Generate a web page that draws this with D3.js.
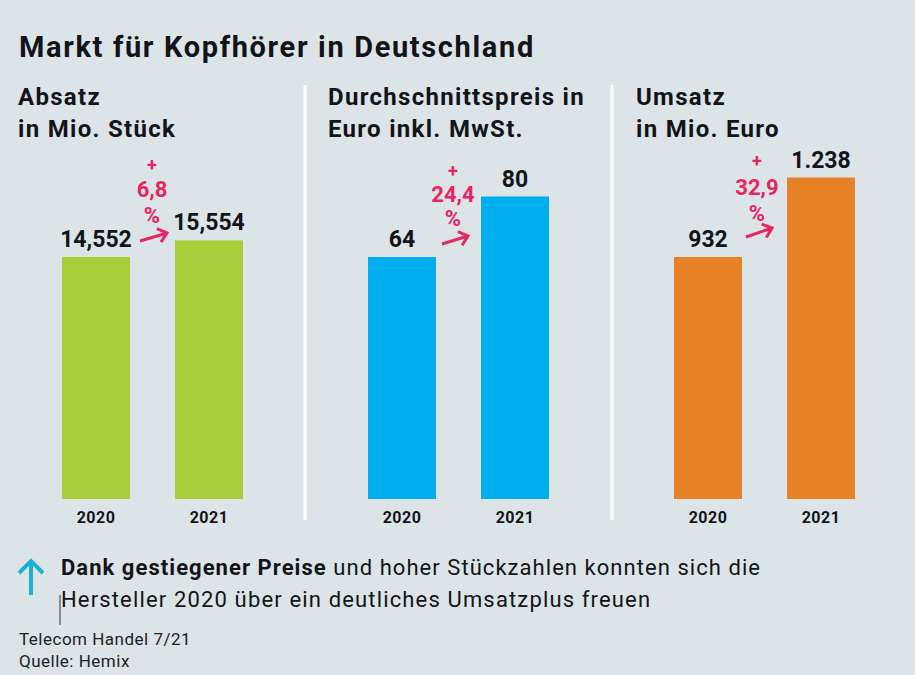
<!DOCTYPE html>
<html>
<head>
<meta charset="utf-8">
<script src="https://cdn.jsdelivr.net/npm/d3@7"></script>
<style>
  html, body { margin: 0; padding: 0; background: #dde4e8; }
  text { font-family: Roboto, sans-serif; }
</style>
</head>
<body>
<svg id="chart" width="915" height="675"></svg>
<script>
const years = ["2020", "2021"];
const absatzValues = [14.552, 15.554];
const preisValues = [64, 80];
const umsatzValues = [932, 1238];
const absatzLabels = ["14,552", "15,554"];
const preisLabels = ["64", "80"];
const umsatzLabels = ["932", "1.238"];
const absatzChange = ["+", "6,8", "%"];
const preisChange = ["+", "24,4", "%"];
const umsatzChange = ["+", "32,9", "%"];

const darkColor = "#111418";
const pinkColor = "#e5265f";
const baseline = 499;
const firstBarTop = 257;

const panels = [
  { title: ["Absatz", "in Mio. Stück"], titleX: 18, left: 62, color: "#a8cf3a",
    values: absatzValues, labels: absatzLabels, change: absatzChange,
    changeX: 152, changeY: [171, 197, 223], arrow: [140, 241, 167, 233] },
  { title: ["Durchschnittspreis in", "Euro inkl. MwSt."], titleX: 328, left: 368, color: "#00aeef",
    values: preisValues, labels: preisLabels, change: preisChange,
    changeX: 453, changeY: [177, 202, 226], arrow: [442, 244, 468, 236] },
  { title: ["Umsatz", "in Mio. Euro"], titleX: 636, left: 674, color: "#e68127",
    values: umsatzValues, labels: umsatzLabels, change: umsatzChange,
    changeX: 757, changeY: [167, 195, 221], arrow: [746, 237, 772, 228] },
];

const svg = d3.select("#chart");

svg.append("text")
  .attr("x", 19).attr("y", 57)
  .attr("font-size", 29).attr("font-weight", 700)
  .attr("letter-spacing", 1.65)
  .attr("fill", darkColor)
  .text("Markt für Kopfhörer in Deutschland");

// white rules between the panels
svg.selectAll(".rule")
  .data([305, 612])
  .enter()
  .append("line")
  .attr("x1", (d) => d).attr("x2", (d) => d)
  .attr("y1", 85).attr("y2", 520)
  .attr("stroke", "#fff").attr("stroke-width", 3);

function drawPanel(p) {
  const g = svg.append("g");

  const x = d3.scaleBand().domain(years)
    .range([p.left, p.left + 181])
    .paddingInner(45 / 113);
  // every panel has its own scale, the 2020 bar is the same height in all three
  const y = d3.scaleLinear().domain([0, p.values[0]]).range([baseline, firstBarTop]);

  g.selectAll(".title")
    .data(p.title)
    .enter()
    .append("text")
    .attr("x", p.titleX)
    .attr("y", (d, i) => 105 + i * 32)
    .attr("font-size", 24).attr("font-weight", 700)
    .attr("letter-spacing", 1.3)
    .attr("fill", darkColor)
    .text((d) => d);

  g.selectAll(".bar")
    .data(years)
    .enter()
    .append("rect")
    .attr("x", (d) => x(d))
    .attr("y", (d, i) => y(p.values[i]))
    .attr("width", x.bandwidth())
    .attr("height", (d, i) => baseline - y(p.values[i]))
    .attr("fill", p.color);

  g.selectAll(".value")
    .data(years)
    .enter()
    .append("text")
    .attr("x", (d) => x(d) + x.bandwidth() / 2)
    .attr("y", (d, i) => y(p.values[i]) - 10)
    .attr("text-anchor", "middle")
    .attr("font-size", 23).attr("font-weight", 700)
    .attr("fill", darkColor)
    .text((d, i) => p.labels[i]);

  const axis = g.append("g")
    .attr("transform", `translate(0, ${baseline})`)
    .call(d3.axisBottom(x).tickSize(0).tickPadding(13));
  axis.select(".domain").remove();
  axis.selectAll("text")
    .attr("font-family", "Roboto, sans-serif")
    .attr("font-size", 16).attr("font-weight", 700)
    .attr("letter-spacing", 0.5)
    .attr("fill", darkColor);

  g.selectAll(".change")
    .data(p.change)
    .enter()
    .append("text")
    .attr("x", p.changeX)
    .attr("y", (d, i) => p.changeY[i])
    .attr("text-anchor", "middle")
    .attr("font-size", (d) => (d === "+" ? 18 : 22)).attr("font-weight", 700)
    .attr("fill", pinkColor)
    .text((d) => d);

  const [x1, y1, x2, y2] = p.arrow;
  const angle = Math.atan2(y2 - y1, x2 - x1);
  const head = 11;
  const wing = (a) => [x2 - head * Math.cos(angle + a), y2 - head * Math.sin(angle + a)];
  const line = d3.line();
  g.append("path")
    .attr("d", line([[x1, y1], [x2, y2]]) + line([wing(0.7), [x2, y2], wing(-0.7)]))
    .attr("fill", "none")
    .attr("stroke", pinkColor).attr("stroke-width", 3);
}

panels.forEach(drawPanel);

// note below the chart
svg.append("path")
  .attr("d", "M31 595V561M19 573L31 561L43 573")
  .attr("fill", "none")
  .attr("stroke", "#1ab1d3").attr("stroke-width", 4);

const note = svg.append("text")
  .attr("x", 61).attr("y", 575)
  .attr("font-size", 22)
  .attr("letter-spacing", 1.05)
  .attr("fill", darkColor);
note.append("tspan").attr("font-weight", 700).text("Dank gestiegener Preise");
note.append("tspan").attr("font-weight", 400).text(" und hoher Stückzahlen konnten sich die");

svg.append("text")
  .attr("x", 61).attr("y", 607)
  .attr("font-size", 22)
  .attr("letter-spacing", 1.15)
  .attr("fill", darkColor)
  .text("Hersteller 2020 über ein deutliches Umsatzplus freuen");

svg.append("line")
  .attr("x1", 60).attr("x2", 60)
  .attr("y1", 595).attr("y2", 625)
  .attr("stroke", "#333").attr("stroke-width", 1);

svg.selectAll(".source")
  .data(["Telecom Handel 7/21", "Quelle: Hemix"])
  .enter()
  .append("text")
  .attr("x", 19)
  .attr("y", (d, i) => 645 + i * 22)
  .attr("font-size", 17)
  .attr("letter-spacing", 0.5)
  .attr("fill", "#1c2026")
  .text((d) => d);
</script>
</body>
</html>
